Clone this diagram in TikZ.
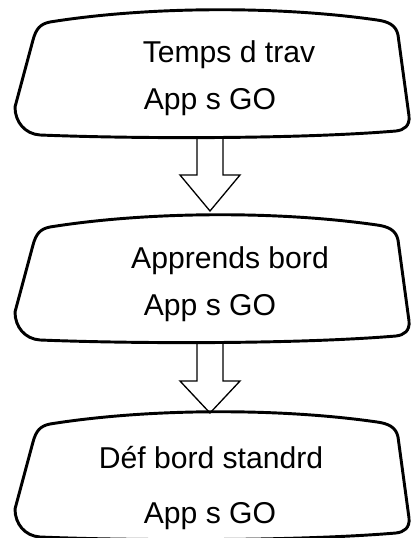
\documentclass[tikz,border=0pt]{standalone}
\usepackage{fontspec}
\setmainfont{Liberation Sans}
\usetikzlibrary{calc}
\begin{document}
\begin{tikzpicture}[x=0.75pt,y=-0.75pt,
  boxline/.style={line width=2.2pt, line join=round},
  arrowline/.style={line width=1pt, fill=white, line join=miter},
  lbl/.style={anchor=base, inner sep=0pt, font=\fontsize{22.6}{26}\selectfont},
  flowbox/.pic={
    \draw[boxline] (50,22) .. controls (150,6) and (280,6) .. (377,20)
      .. controls (388,21.5) and (396,25) .. (398,35)
      -- (409,116)
      .. controls (410,126) and (404,130) .. (396,131)
      .. controls (300,139) and (140,139) .. (40,135)
      .. controls (25,134) and (15,122) .. (15,107)
      -- (33,40)
      .. controls (36,29) and (40,24) .. (50,22) -- cycle;
  }]
\useasboundingbox (0,0) rectangle (410,538);
% connector end points
\coordinate (a1s) at (210,138);
\coordinate (a1e) at (210,211);
\coordinate (a2s) at (210,343);
\coordinate (a2e) at (210,413);
% block arrows (drawn first, boxes on top)
\filldraw[arrowline] ($(a1s)+(-13,0)$) -- ($(a1s)+(-13,37)$) -- ($(a1s)+(-30,37)$)
  -- (a1e) -- ($(a1s)+(30,37)$) -- ($(a1s)+(13,37)$) -- ($(a1s)+(13,0)$);
\filldraw[arrowline] ($(a2s)+(-13,0)$) -- ($(a2s)+(-13,38)$) -- ($(a2s)+(-30,38)$)
  -- (a2e) -- ($(a2s)+(30,38)$) -- ($(a2s)+(13,38)$) -- ($(a2s)+(13,0)$);
% boxes
\pic (box1) at (0,0) {flowbox};
\pic (box2) at (0,205) {flowbox};
\pic (box3) at (0,402) {flowbox};
% texts
\node[lbl] (t1a) at (229,63) {Temps d trav};
\node[lbl] (t1b) at (210,110) {App s GO};
\node[lbl] (t2a) at (230,268) {Apprends bord};
\node[lbl] (t2b) at (210,315) {App s GO};
\node[lbl] (t3a) at (211,468) {Déf bord standrd};
\node[lbl] (t3b) at (210,523) {App s GO};
\end{tikzpicture}
\end{document}
